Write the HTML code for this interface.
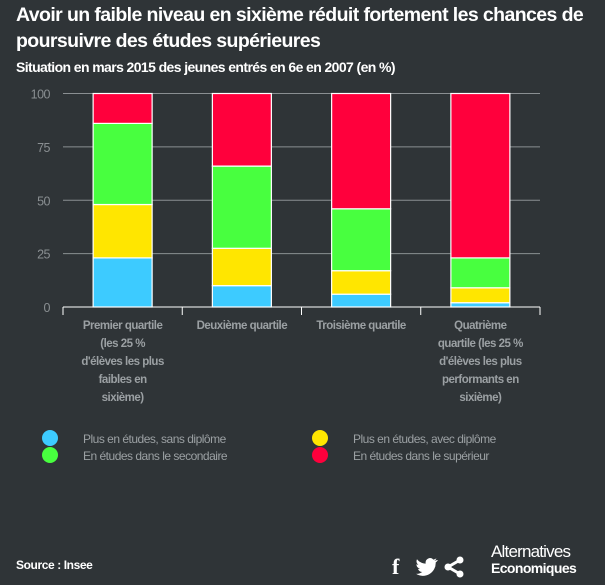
<!DOCTYPE html>
<html><head><meta charset="utf-8"><style>
body{margin:0;background:#2f3437;width:605px;height:585px;overflow:hidden;font-family:"Liberation Sans Narrow","Liberation Sans",sans-serif;}
.t{position:absolute;color:#fff;font-weight:bold;}
</style></head><body>
<div class="t" style="left:16px;top:2px;font-size:19.5px;line-height:26px;width:590px;letter-spacing:-0.6px">Avoir un faible niveau en sixième réduit fortement les chances de poursuivre des études supérieures</div>
<div class="t" style="left:16px;top:59px;font-size:14px;letter-spacing:-0.6px">Situation en mars 2015 des jeunes entrés en 6e en 2007 (en %)</div>
<svg id="c" width="605" height="585" style="position:absolute;left:0;top:0"></svg>
<script>
const categories=[["Premier quartile","(les 25 %","d'élèves les plus","faibles en","sixième)"],["Deuxième quartile"],["Troisième quartile"],["Quatrième","quartile (les 25 %","d'élèves les plus","performants en","sixième)"]];
const seriesNames=["Plus en études, sans diplôme","Plus en études, avec diplôme","En études dans le secondaire","En études dans le supérieur"];
const seriesColors=["#3dcbff","#ffe600","#48ff3f","#ff003c"];
const sansDiplome=[23,10,6,2];
const avecDiplome=[25,17.5,11,7];
const secondaire=[38,38.5,29,14];
const superieur=[14,34,54,77];
const yTicks=[0,25,50,75,100];
const series=[sansDiplome,avecDiplome,secondaire,superieur];
const svg=document.getElementById('c');const NS='http://www.w3.org/2000/svg';
const x0=63,x1=540,y0=307,y1=93.5;
const y=v=>y0-(v/100)*(y0-y1);
const band=(x1-x0)/categories.length;
function mk(t,a,p){const e=document.createElementNS(NS,t);for(const k in a)e.setAttribute(k,a[k]);(p||svg).appendChild(e);return e;}
yTicks.forEach(v=>{
 const l=mk('line',{x1:x0,x2:x1,y1:y(v),y2:y(v),stroke:v===0?'#fff':'#8a8f92','stroke-width':1});
 
 
 const t=mk('text',{x:50,y:y(v)+5,'text-anchor':'end',fill:'#8a8f92','font-size':12.5,'letter-spacing':-0.5});
 t.textContent=v;
 
 
});
for(let i=0;i<=categories.length;i++){
 const l=mk('line',{x1:x0+i*band,x2:x0+i*band,y1:y0,y2:y0+8,stroke:'#fff'});
 
 
}
categories.forEach((c,i)=>{
 const cx=x0+band*(i+0.5),bw=59;let acc=0;
 series.forEach((s,j)=>{
  const r=mk('rect',{x:cx-bw/2,y:y(acc+s[i]),width:bw,height:y(acc)-y(acc+s[i]),fill:seriesColors[j],stroke:'#fff','stroke-width':1.2});
  
  
  acc+=s[i];
 });
 const t=mk('text',{x:cx,y:y0+22,'text-anchor':'middle',fill:'#9ba0a3','font-size':11.5,'font-weight':'bold','letter-spacing':-0.5});
 
 
 c.forEach((ln,k)=>{const ts=mk('tspan',{x:cx,dy:k?18:0},t);ts.textContent=ln;});
});
const lp=[[50,438],[320,438],[50,455],[320,455]];
seriesNames.forEach((n,j)=>{
 const ci=mk('circle',{cx:lp[j][0],cy:lp[j][1],r:8,fill:seriesColors[j]});
 
 
 const t=mk('text',{x:lp[j][0]+33,y:lp[j][1]+5,fill:'#9ba0a3','font-size':12,'letter-spacing':-0.5});
 t.textContent=n;
 
 
});
</script>
<div class="t" style="left:16px;top:558px;font-size:12px;letter-spacing:-0.4px">Source : Insee</div>
<div class="t" style="left:392px;top:554px;font-size:22px;font-family:'Liberation Serif',serif">f</div>
<svg style="position:absolute;left:416px;top:558px" width="22" height="18" viewBox="0 0 22 18"><path d="M21 2c-1 .5-2 .7-2.6.8 1-.6 1.6-1.4 2-2.4-1 .6-2 1-3 1.2A4.5 4.5 0 0 0 9.7 5.6C6 5.4 3 3.7 1 1.2c-1 2-.5 4.3 1.4 5.6-.7 0-1.400-.2-2-.5 0 2.2 1.6 4 3.6 4.5-.7.2-1.4.2-2 .1.6 1.8 2.3 3.1 4.2 3.1A9 9 0 0 1 0 15.8 12.8 12.8 0 0 0 19.7 4.4c.9-.6 1.6-1.4 2.2-2.3z" fill="#fff"/></svg>
<svg style="position:absolute;left:443px;top:556px" width="22" height="22"><line x1="5" y1="11" x2="17" y2="4" stroke="#fff" stroke-width="3"/><line x1="5" y1="11" x2="17" y2="18" stroke="#fff" stroke-width="3"/><circle cx="5" cy="11" r="3.5" fill="#fff"/><circle cx="17" cy="4" r="3.5" fill="#fff"/><circle cx="17" cy="18" r="3.5" fill="#fff"/></svg>
<div style="position:absolute;left:491px;top:544px;color:#fff;line-height:16px">
<div style="font-size:17px;letter-spacing:-0.8px">Alternatives</div>
<div style="font-size:14px;font-weight:bold;letter-spacing:-0.6px">Economiques</div></div>
</body></html>
